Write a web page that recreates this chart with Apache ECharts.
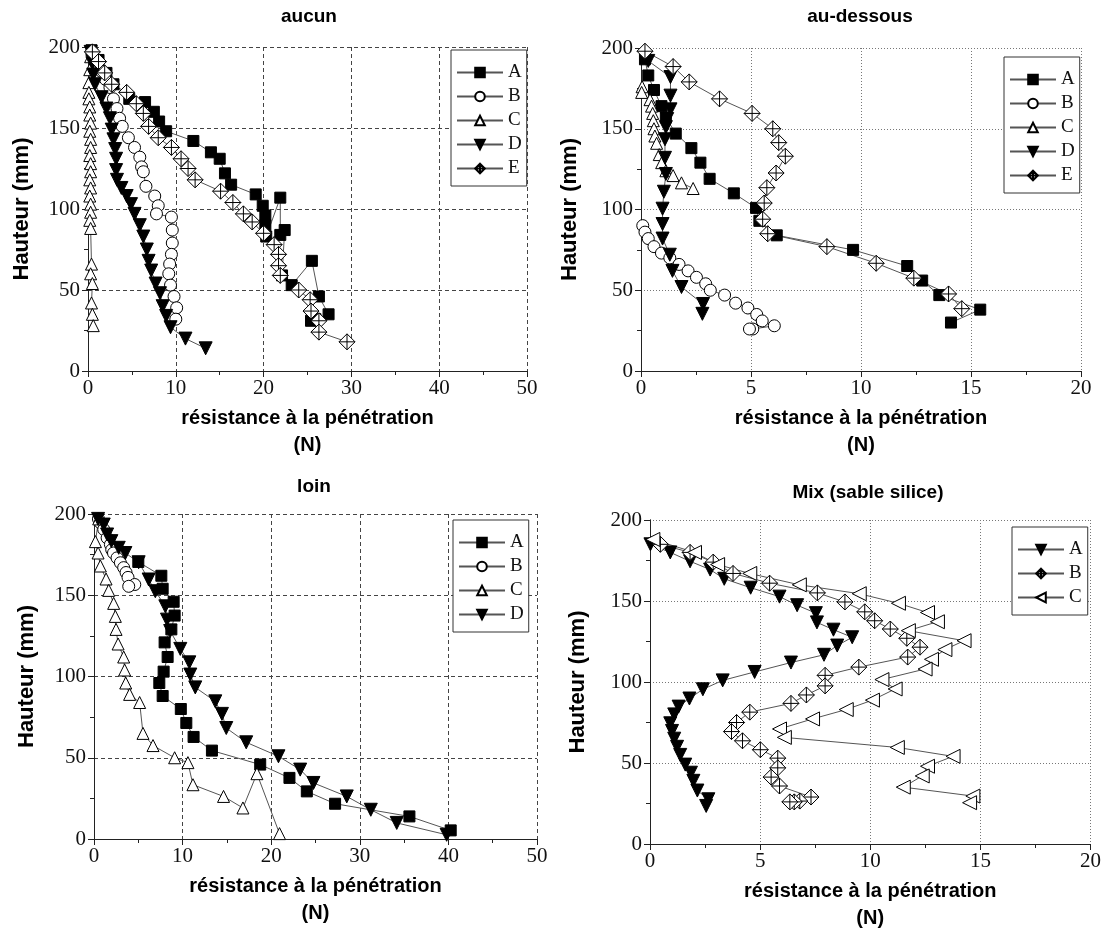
<!DOCTYPE html>
<html>
<head>
<meta charset="utf-8">
<script src="https://cdn.jsdelivr.net/npm/echarts@6/dist/echarts.min.js"></script>
<style>
  html, body { margin: 0; padding: 0; background: #fff; }
  #chart { width: 1104px; height: 933px; }
</style>
</head>
<body>
<div id="chart"></div>
<script>
// valeurs : [résistance (N), hauteur (mm)]
var aucunA = [[0.4,198],[1.2,192],[2.1,184],[2.9,177],[4.7,168],[6.5,166],[7.5,160],[8.1,154],[8.9,148],[12.0,142],[14.0,135],[15.0,131],[15.6,122],[16.3,115],[19.1,109],[19.9,102],[20.2,96],[20.2,90],[20.3,83],[21.9,107],[21.9,84],[22.4,87],[22.1,59],[23.2,53],[25.5,68],[26.3,46],[27.4,35],[25.4,31],[25.9,32]];
var aucunB = [[0.5,197],[1.0,191],[1.5,185],[2.0,180],[2.5,175],[2.9,168],[3.3,162],[3.6,156],[3.9,151],[4.6,144],[5.3,138],[5.9,132],[6.1,126],[6.3,123],[6.6,114],[7.6,108],[8.0,102],[7.8,97],[9.5,95],[9.6,87],[9.6,79],[9.5,72],[9.3,66],[9.2,60],[9.4,53],[9.8,46],[10.1,39],[10.0,32]];
var aucunC = [[0.3,194],[0.2,186],[0.1,178],[0.1,172],[0.1,168],[0.2,163],[0.2,158],[0.3,153],[0.2,148],[0.3,143],[0.3,138],[0.2,133],[0.3,128],[0.3,123],[0.2,118],[0.3,113],[0.2,108],[0.3,103],[0.3,98],[0.2,93],[0.3,88],[0.4,66],[0.3,60],[0.5,54],[0.4,42],[0.5,35],[0.6,28]];
var aucunD = [[0.3,197],[0.5,190],[0.6,183],[0.8,177],[1.55,169],[2.1,162],[2.5,156],[2.7,149],[2.9,143],[3.1,137],[3.2,131],[3.2,124],[3.3,118],[3.8,113],[4.4,108],[4.9,103],[5.3,97],[5.9,90],[6.3,83],[6.7,75],[6.9,68],[7.2,62],[7.7,54],[8.2,48],[8.5,40],[8.9,34],[9.4,27],[11.1,20],[13.4,14]];
var aucunE = [[0.5,197],[1.2,191],[1.9,184],[2.7,177],[4.4,172],[5.5,165],[6.3,159],[6.9,151],[8.0,144],[9.5,138],[10.6,131],[11.4,125],[12.2,118],[15.1,111],[16.5,104],[17.7,97],[18.7,92],[20.0,85],[21.2,78],[21.7,72],[21.7,65],[21.9,59],[24.0,50],[25.3,44],[25.4,37],[26.3,31],[26.3,24],[29.5,18]];

var dessousA = [[0.18,193],[0.33,183],[0.59,174],[0.93,164],[1.13,157],[1.58,147],[2.29,138],[2.7,129],[3.12,119],[4.22,110],[5.23,101],[5.38,93],[6.17,84],[9.64,75],[12.1,65],[12.78,56],[13.56,47],[15.42,38],[14.09,30]];
var dessousB = [[0.08,90],[0.18,86],[0.33,82],[0.59,77],[0.93,73],[1.31,70],[1.73,66],[2.14,62],[2.52,58],[2.94,54],[3.15,50],[3.8,47],[4.3,42],[4.86,39],[5.26,35],[5.51,31],[6.06,28],[5.08,26],[4.93,26]];
var dessousC = [[0.05,176],[0.03,172.5],[0.41,168],[0.48,164],[0.53,159.5],[0.56,155],[0.59,150],[0.63,145.5],[0.71,141],[0.83,134],[0.94,129],[1.13,124],[1.46,121],[1.84,116.5],[2.37,113]];
var dessousD = [[0.33,192],[1.34,182],[1.34,170.5],[1.34,162],[1.19,156],[1.13,151],[1.09,143.5],[1.09,132],[1.13,122],[1.04,111],[0.98,100.5],[0.98,91],[0.98,82],[1.31,72],[1.43,62],[1.84,52],[2.82,41.5],[2.79,35.4]];
var dessousE = [[0.18,198],[1.46,188.5],[2.19,179],[3.57,168.5],[5.05,159.5],[5.99,150],[6.26,141.4],[6.56,133],[6.14,122.6],[5.72,113.5],[5.6,104],[5.53,94],[5.76,85],[8.45,77],[10.69,66.7],[12.4,57.5],[13.98,47.7],[14.58,38.6]];

var loinA = [[5.0,170.5],[7.6,162],[7.75,154],[8.99,146],[9.1,137.5],[8.73,129],[7.97,121],[8.31,112],[7.86,103],[7.37,96],[7.75,88],[9.8,80],[10.42,71.4],[11.24,62.8],[13.31,54.4],[18.76,45.8],[22.06,37.6],[24.02,29.3],[27.21,21.7],[35.6,13.9],[40.26,5.3]];
var loinB = [[0.5,197],[0.72,194.6],[1.1,190.5],[1.48,185.3],[1.85,181.2],[2.0,178],[2.2,176],[2.6,173],[2.98,170],[3.35,167],[3.62,164],[3.84,161],[4.6,156.6],[3.92,155.5]];
var loinC = [[0.53,197],[0.16,183],[0.46,176],[0.72,168],[1.36,160],[1.66,153],[2.22,145],[2.41,137],[2.49,129],[2.72,120],[3.35,112],[3.46,104],[3.58,96],[4.02,89],[5.15,84],[5.53,65],[6.66,57.5],[9.1,50],[10.6,47],[11.17,33.4],[14.62,26.2],[16.81,19.1],[18.39,40.2],[20.94,3.3]];
var loinD = [[0.46,197],[1.1,193.5],[1.48,187.4],[1.96,183.3],[2.79,179.2],[3.54,176],[5.04,170.3],[6.17,159.7],[6.92,152.5],[8.05,143.2],[8.24,135],[8.6,128],[9.74,117],[10.76,108.7],[10.87,101.2],[11.43,93.3],[13.69,84.7],[14.44,77],[14.93,68.3],[17.18,59.5],[20.82,50.9],[23.27,42.7],[24.77,34.5],[28.53,26.2],[31.24,18],[34.17,9.9],[39.8,2.6]];

var mixA = [[0.02,185],[0.92,180],[1.82,174.5],[2.73,169.4],[3.37,163.7],[4.57,158.2],[5.88,152.7],[6.68,147.4],[7.53,142.5],[7.58,136.8],[8.33,132.3],[9.18,127.6],[8.5,122.5],[7.9,116.8],[6.4,112],[4.75,106.2],[3.3,101],[2.4,95.5],[1.79,89.8],[1.3,84.8],[1.1,80],[0.92,74.5],[1.0,69.8],[1.1,65],[1.23,60],[1.37,55],[1.6,49],[1.86,44],[1.97,39],[2.15,33],[2.65,27.6],[2.55,23.5]];
var mixB = [[0.47,185],[1.82,180],[2.87,174],[3.77,167],[5.43,161],[7.6,155],[8.85,149.4],[9.75,143.3],[10.2,137.8],[10.91,132.7],[11.66,127],[12.26,121.5],[11.7,115.4],[9.48,109.2],[7.95,104.1],[7.95,97.6],[7.1,92],[6.4,86.8],[4.53,81.4],[3.93,75],[3.7,69.4],[4.2,63.7],[5.01,58.2],[5.8,53],[5.8,47],[5.5,41.3],[5.88,35.8],[7.31,29],[6.8,26.5],[6.55,26],[6.35,26]];
var mixC = [[0.13,188],[2.02,180],[3.07,172.5],[4.53,167],[6.78,160],[9.5,154.5],[11.28,148.6],[12.6,142.9],[13.05,137.2],[11.73,131.7],[14.26,125.5],[13.39,120],[12.78,114],[12.49,108],[10.53,101.5],[11.13,95.7],[10.1,88.8],[8.91,83],[7.38,77.2],[5.88,71],[6.1,65.8],[11.23,59.6],[13.76,54.1],[12.6,48],[12.36,42],[11.5,35.1],[14.66,29.6],[14.51,25.5]];

var chart = echarts.init(document.getElementById('chart'), null, { renderer: 'canvas' });

var serif = '"Liberation Serif", "DejaVu Serif", serif';
var sans = '"Liberation Sans", Arial, sans-serif';
var diamondCross = 'path://M10,0L20,10L10,20L0,10Z M10,0L10,20 M0,10L20,10';

// styles des marqueurs
var mk = {
  sq:   { symbol: 'rect', symbolSize: 11, rot: 0, fill: '#000' },
  ci:   { symbol: 'circle', symbolSize: 12, rot: 0, fill: '#fff' },
  tri:  { symbol: 'triangle', symbolSize: 12, rot: 0, fill: '#fff' },
  triD: { symbol: 'triangle', symbolSize: 13, rot: 180, fill: '#000' },
  dia:  { symbol: diamondCross, symbolSize: 16, rot: 0, fill: '#fff' },
  triL: { symbol: 'triangle', symbolSize: 14, rot: 90, fill: '#fff' }
};

var grids = [
  { left: 88, top: 47, width: 439, height: 324 },
  { left: 641, top: 48, width: 440, height: 323 },
  { left: 94, top: 514, width: 443, height: 325 },
  { left: 650, top: 520, width: 444, height: 327 }
];
var panelMax = [50, 20, 50, 20];
var panelInt = [10, 5, 10, 5];
var panelDash = [[4, 3], [1, 2], [4, 3], [1, 2]];
var panelDashColor = ['#444', '#777', '#444', '#777'];
var yNameGap = [55, 60, 56, 61];

var xAxes = [], yAxes = [];
grids.forEach(function (g, i) {
  xAxes.push({
    type: 'value', gridIndex: i, min: 0, max: panelMax[i], interval: panelInt[i],
    position: 'bottom',
    name: 'résistance à la pénétration\n(N)', nameLocation: 'middle', nameGap: 34,
    nameTextStyle: { fontFamily: sans, fontWeight: 'bold', fontSize: 20, color: '#000', lineHeight: 27 },
    axisLine: { show: true, lineStyle: { color: '#222', width: 1 } },
    axisTick: { show: true, inside: false, length: 6, lineStyle: { color: '#222' } },
    minorTick: { show: true, splitNumber: 2, length: 4, lineStyle: { color: '#222' } },
    axisLabel: { fontFamily: serif, fontSize: 21, color: '#111', margin: 7 },
    splitLine: { show: true, lineStyle: { type: panelDash[i], color: panelDashColor[i], width: 1 } }
  });
  xAxes.push({
    type: 'value', gridIndex: i, min: 0, max: panelMax[i], interval: panelInt[i],
    position: 'top',
    axisLine: { show: true, lineStyle: { color: '#222', width: 1 } },
    axisTick: { show: true, inside: true, length: 6, lineStyle: { color: '#222' } },
    minorTick: { show: true, splitNumber: 2, length: 4, lineStyle: { color: '#222' } },
    axisLabel: { show: false },
    splitLine: { show: false }
  });
  yAxes.push({
    type: 'value', gridIndex: i, min: 0, max: 200, interval: 50,
    position: 'left',
    name: 'Hauteur (mm)', nameLocation: 'middle', nameGap: yNameGap[i],
    nameTextStyle: { fontFamily: sans, fontWeight: 'bold', fontSize: 22, color: '#000' },
    axisLine: { show: true, lineStyle: { color: '#222', width: 1 } },
    axisTick: { show: true, inside: false, length: 6, lineStyle: { color: '#222' } },
    minorTick: { show: true, splitNumber: 2, length: 4, lineStyle: { color: '#222' } },
    axisLabel: { fontFamily: serif, fontSize: 21, color: '#111', margin: 8 },
    splitLine: { show: true, lineStyle: { type: panelDash[i], color: panelDashColor[i], width: 1 } }
  });
  yAxes.push({
    type: 'value', gridIndex: i, min: 0, max: 200, interval: 50,
    position: 'right',
    axisLine: { show: true, lineStyle: { color: '#222', width: 1 } },
    axisTick: { show: true, inside: true, length: 6, lineStyle: { color: '#222' } },
    minorTick: { show: true, splitNumber: 2, length: 4, lineStyle: { color: '#222' } },
    axisLabel: { show: false },
    splitLine: { show: false }
  });
});

function serie(panel, letter, data, m) {
  return {
    name: panel + '-' + letter,
    type: 'line',
    xAxisIndex: panel * 2, yAxisIndex: panel * 2,
    data: data,
    symbol: m.symbol, symbolSize: m.symbolSize, symbolRotate: m.rot,
    showAllSymbol: true,
    lineStyle: { color: '#555', width: 1 },
    itemStyle: { color: m.fill, borderColor: '#000', borderWidth: 1 },
    emphasis: { disabled: true },
    z: 2
  };
}

var series = [
  serie(0, 'A', aucunA, mk.sq), serie(0, 'B', aucunB, mk.ci), serie(0, 'C', aucunC, mk.tri),
  serie(0, 'D', aucunD, mk.triD), serie(0, 'E', aucunE, mk.dia),
  serie(1, 'A', dessousA, mk.sq), serie(1, 'B', dessousB, mk.ci), serie(1, 'C', dessousC, mk.tri),
  serie(1, 'D', dessousD, mk.triD), serie(1, 'E', dessousE, mk.dia),
  serie(2, 'A', loinA, mk.sq), serie(2, 'B', loinB, mk.ci), serie(2, 'C', loinC, mk.tri),
  serie(2, 'D', loinD, mk.triD),
  serie(3, 'A', mixA, mk.triD), serie(3, 'B', mixB, mk.dia), serie(3, 'C', mixC, mk.triL)
];

function legend(panel, letters, left, top) {
  return {
    orient: 'vertical', left: left, top: top,
    data: letters.map(function (l) { return panel + '-' + l; }),
    formatter: function (n) { return n.split('-')[1]; },
    itemWidth: 46, itemHeight: 12, itemGap: 5,
    padding: [13, 5, 8, 5],
    borderColor: '#333', borderWidth: 1, backgroundColor: '#fff',
    selectedMode: false,
    textStyle: { fontFamily: serif, fontSize: 19, color: '#111' }
  };
}

var titles = [
  { text: 'aucun', x: 309, y: 17 },
  { text: 'au-dessous', x: 860, y: 17 },
  { text: 'loin', x: 314, y: 487 },
  { text: 'Mix (sable silice)', x: 868, y: 493 }
];

chart.setOption({
  animation: false,
  backgroundColor: '#fff',
  grid: grids.map(function (g) { return Object.assign({ containLabel: false }, g); }),
  xAxis: xAxes,
  yAxis: yAxes,
  legend: [
    legend(0, ['A', 'B', 'C', 'D', 'E'], 451, 50),
    legend(1, ['A', 'B', 'C', 'D', 'E'], 1004, 57),
    legend(2, ['A', 'B', 'C', 'D'], 453, 520),
    legend(3, ['A', 'B', 'C'], 1012, 527)
  ],
  graphic: titles.map(function (t) {
    return {
      type: 'text', x: t.x, y: t.y,
      style: { text: t.text, textAlign: 'center', textVerticalAlign: 'middle',
               font: 'bold 19px ' + sans, fill: '#000' }
    };
  }),
  series: series
});
</script>
</body>
</html>
